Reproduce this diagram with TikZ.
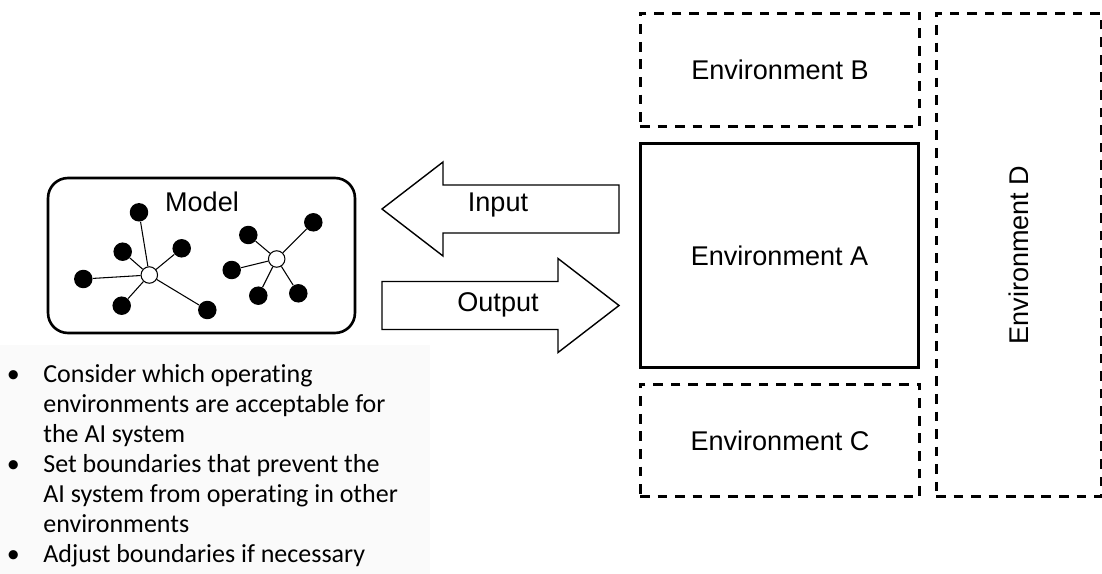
\documentclass[tikz,border=0pt]{standalone}
\usepackage{fontspec}
\setmainfont{Liberation Sans}
\newfontfamily\notefont[Ligatures=NoCommon]{Carlito}
\newcommand{\bitem}[1]{\par\hangindent=0.86cm\hangafter=1\noindent\makebox[0.86cm][l]{\hspace{0.13cm}\textbullet}#1}
\begin{document}
\begin{tikzpicture}[x=0.02cm,y=-0.02cm]
	\tikzstyle{envsolid} = [draw, line width=1.7pt, inner sep=0, font=\fontsize{15.4pt}{18pt}\selectfont]
	\tikzstyle{envdash} = [draw, line width=1.7pt, dash pattern=on 5.5pt off 4.5pt, inner sep=0, font=\fontsize{15.4pt}{18pt}\selectfont]
	\tikzstyle{modelbox} = [draw, line width=1.5pt, rounded corners=0.4cm, minimum width=6.14cm, minimum height=3.1cm]
	\tikzstyle{hub} = [circle, draw, line width=0.6pt, fill=white, minimum size=0.33cm, inner sep=0]
	\tikzstyle{leaf} = [circle, fill=black, minimum size=0.37cm, inner sep=0]
	\tikzstyle{link} = [line width=0.6pt]
	\tikzstyle{blockarrow} = [draw, line width=0.8pt, fill=white, line join=miter]
	\tikzstyle{plain} = [inner sep=0, font=\fontsize{15.4pt}{18pt}\selectfont]
	\useasboundingbox (0,0) rectangle (1102,574);
\fill [black!2] (0,345) rectangle (430,574);
\node [envdash, minimum width=5.6cm, minimum height=2.28cm] (envB) at (780,70) {Environment B};
\node [envsolid, minimum width=5.58cm, minimum height=4.5cm] (envA) at (779.5,255.5) {Environment A};
\node [envdash, minimum width=5.6cm, minimum height=2.26cm] (envC) at (780,440.5) {Environment C};
\node [envdash, minimum width=3.3cm, minimum height=9.68cm] (envD) at (1018.5,255) {\rotatebox{90}{Environment D}};
\node [modelbox] (model) at (201.5,255.5) {};
\node [plain] (modeltitle) at (202,202) {Model};
\node [hub] (h1) at (149.3,275) {};
\node [leaf] (n1) at (139,212.3) {};
\node [leaf] (n2) at (122.7,251.7) {};
\node [leaf] (n3) at (181.7,248.3) {};
\node [leaf] (n4) at (83.3,279) {};
\node [leaf] (n5) at (121.7,305.7) {};
\node [leaf] (n6) at (207.3,310) {};
\node [hub] (h2) at (276.7,259) {};
\node [leaf] (n7) at (313.3,222.3) {};
\node [leaf] (n8) at (248.3,235) {};
\node [leaf] (n9) at (231.7,270) {};
\node [leaf] (n10) at (258.3,295.7) {};
\node [leaf] (n11) at (298.3,293.3) {};
\draw [link] (h1) edge (n1);
\draw [link] (h1) edge (n2);
\draw [link] (h1) edge (n3);
\draw [link] (h1) edge (n4);
\draw [link] (h1) edge (n5);
\draw [link] (h1) edge (n6);
\draw [link] (h2) edge (n7);
\draw [link] (h2) edge (n8);
\draw [link] (h2) edge (n9);
\draw [link] (h2) edge (n10);
\draw [link] (h2) edge (n11);

\draw [blockarrow] (382,209) -- (443,162) -- (443,185) -- (619,185) -- (619,233) -- (443,233) -- (443,256) -- cycle;
\draw [blockarrow] (382,281.5) -- (558,281.5) -- (558,258.5) -- (619,305.5) -- (558,352.5) -- (558,329.5) -- (382,329.5) -- cycle;
\node [plain] (input) at (498,205) {Input};
\node [plain] (output) at (498,305) {Output};

\node [anchor=north west, inner sep=0, text width=8.4cm] (notes) at (0,352) {%
\notefont\fontsize{14.8pt}{17.07pt}\selectfont
\bitem{Consider which operating\newline environments are acceptable for\newline the AI system}%
\bitem{Set boundaries that prevent the\newline AI system from operating in other\newline environments}%
\bitem{Adjust boundaries if necessary}\par};
\end{tikzpicture}
\end{document}
